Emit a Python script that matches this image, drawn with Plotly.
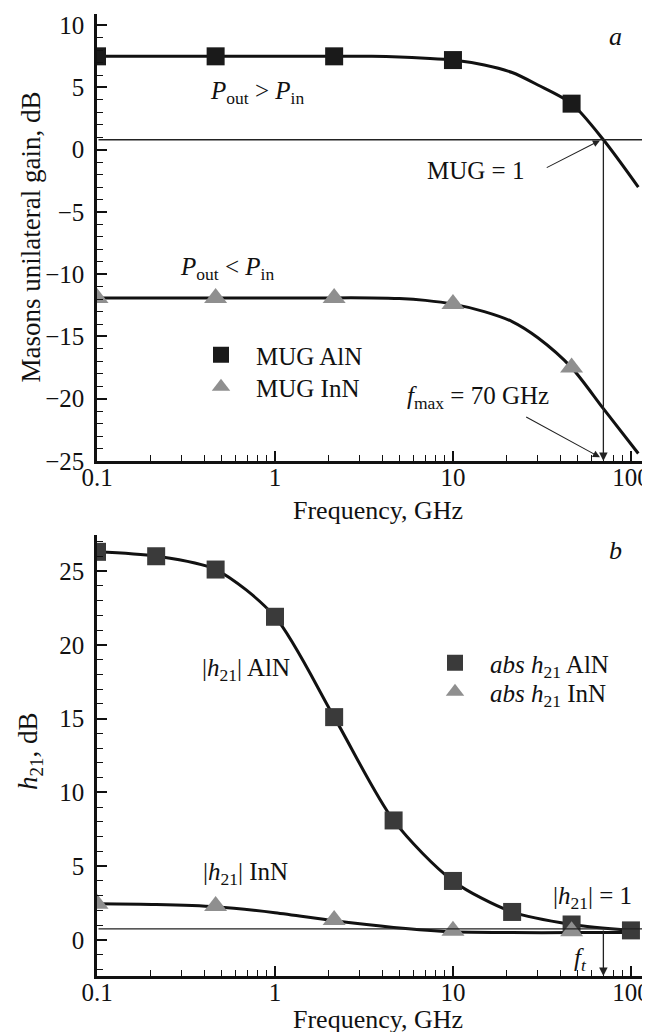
import math
import plotly.graph_objects as go

# ---------------- data ----------------
# panel a: Mason's unilateral gain
freq_mug = [0.1, 0.464, 2.15, 10, 46.4]
mug_aln = [7.5, 7.5, 7.5, 7.2, 3.7]
mug_inn = [-11.9, -11.9, -11.9, -12.4, -17.5]

freq_mug_curve = [0.1, 0.464, 1, 2.15, 3.5, 5, 7, 10, 15, 21.5, 30, 46.4, 70, 110]
mug_aln_curve = [7.5, 7.5, 7.5, 7.5, 7.5, 7.45, 7.35, 7.2, 6.8, 6.2, 5.2, 3.7, 0.8, -3.0]
mug_inn_curve = [-11.9, -11.9, -11.9, -11.9, -11.9, -11.95, -12.1, -12.4, -13.0, -13.8, -15.1, -17.5, -20.8, -24.4]

# panel b: |h21|
freq_h21 = [0.1, 0.215, 0.464, 1, 2.15, 4.64, 10, 21.5, 46.4, 100]
h21_aln = [26.3, 26.0, 25.1, 21.9, 15.1, 8.1, 4.0, 1.9, 1.05, 0.65]
freq_h21_inn = [0.1, 0.464, 2.15, 10, 46.4]
h21_inn = [2.45, 2.3, 1.35, 0.62, 0.6]
freq_h21_inn_curve = [0.1, 0.215, 0.464, 1, 2.15, 4.64, 10, 21.5, 46.4, 100]
h21_inn_curve = [2.45, 2.4, 2.25, 1.85, 1.3, 0.85, 0.55, 0.5, 0.5, 0.5]

# reference levels
mug_unity_level = 0.8
h21_unity_level = 0.75
f_max = 70
f_t = 70

x_ticks = [0.1, 1, 10, 100]
x_tick_text = ["0.1", "1", "10", "100"]

# ---------------- style ----------------
FONT = "Liberation Serif"
INK = "#111111"
SQ_TOP = "#1a1a1a"
SQ_BOT = "#3a3a3a"
TRI = "#8f8f8f"
W, H = 650, 1032
L = 89
X_RANGE = [-1, 2.152]
FS = 25

def L10(v):
    return math.log10(v)

fig = go.Figure()

curve_line = dict(color=INK, width=3, shape="spline", smoothing=0.8)

# --- panel a curves & markers
fig.add_trace(go.Scatter(x=freq_mug_curve, y=mug_aln_curve, mode="lines", line=curve_line,
                         showlegend=False, xaxis="x", yaxis="y", hoverinfo="skip"))
fig.add_trace(go.Scatter(x=freq_mug_curve, y=mug_inn_curve, mode="lines", line=curve_line,
                         showlegend=False, xaxis="x", yaxis="y", hoverinfo="skip"))
fig.add_trace(go.Scatter(x=freq_mug, y=mug_aln, mode="markers", name="MUG AlN",
                         marker=dict(symbol="square", size=18, color=SQ_TOP),
                         xaxis="x", yaxis="y", legend="legend"))
fig.add_trace(go.Scatter(x=freq_mug, y=mug_inn, mode="markers", name="MUG InN",
                         marker=dict(symbol="triangle-up", size=20, color=TRI),
                         xaxis="x", yaxis="y", legend="legend2"))

# --- panel b curves & markers
fig.add_trace(go.Scatter(x=freq_h21, y=h21_aln, mode="lines", line=curve_line,
                         showlegend=False, xaxis="x2", yaxis="y2", hoverinfo="skip"))
fig.add_trace(go.Scatter(x=freq_h21_inn_curve, y=h21_inn_curve, mode="lines", line=curve_line,
                         showlegend=False, xaxis="x2", yaxis="y2", hoverinfo="skip"))
fig.add_trace(go.Scatter(x=freq_h21, y=h21_aln, mode="markers",
                         name="<i>abs h</i><sub>21</sub> AlN",
                         marker=dict(symbol="square", size=18, color=SQ_BOT),
                         xaxis="x2", yaxis="y2", legend="legend3"))
fig.add_trace(go.Scatter(x=freq_h21_inn, y=h21_inn, mode="markers",
                         name="<i>abs h</i><sub>21</sub> InN",
                         marker=dict(symbol="triangle-up", size=20, color=TRI),
                         xaxis="x2", yaxis="y2", legend="legend4"))

tickfont = dict(family=FONT, size=FS, color=INK)
xdom = [L / W, 1.0]

def xaxis_cfg(anchor):
    return dict(type="log", range=X_RANGE, domain=xdom, anchor=anchor,
                showline=True, linewidth=2.5, linecolor=INK,
                showgrid=False, zeroline=False,
                ticks="inside", ticklen=10, tickwidth=1.6, tickcolor=INK,
                tickvals=x_ticks, ticktext=x_tick_text, tickfont=tickfont,
                ticklabelstandoff=-8,
                minor=dict(ticks="inside", ticklen=6, tickwidth=1.4, tickcolor=INK,
                           dtick="D1", showgrid=False),
                automargin=False)

def yaxis_cfg(anchor, rng, dom, dtick):
    return dict(range=rng, domain=dom, anchor=anchor,
                showline=True, linewidth=2.5, linecolor=INK,
                showgrid=False, zeroline=False,
                ticks="inside", ticklen=10, tickwidth=1.6, tickcolor=INK,
                dtick=dtick, tickfont=tickfont, ticklabelstandoff=5,
                minor=dict(ticks="inside", ticklen=6, tickwidth=1.4, tickcolor=INK,
                           dtick=1, showgrid=False),
                automargin=False)

top_px = (6, 453)
bot_px = (527, 968)
top_dom = [1 - top_px[1] / H, 1 - top_px[0] / H]
bot_dom = [1 - bot_px[1] / H, 1 - bot_px[0] / H]

annots = []

def text(x, y, s, xr, yr, xanchor="center", size=FS):
    annots.append(dict(x=L10(x), y=y, xref=xr, yref=yr, text=s, showarrow=False,
                       xanchor=xanchor, yanchor="middle",
                       font=dict(family=FONT, size=size, color=INK)))

def ptext(px, py, s, angle=0, size=FS + 1):
    annots.append(dict(x=px / W, y=1 - py / H, xref="paper", yref="paper", text=s,
                       showarrow=False, xanchor="center", yanchor="middle",
                       textangle=angle, font=dict(family=FONT, size=size, color=INK)))

def arrow(x, y, ax, ay, xr, yr, width=1.3, color="#222222", size=1.3):
    annots.append(dict(x=L10(x), y=y, ax=L10(ax), ay=ay, xref=xr, yref=yr,
                       axref=xr, ayref=yr, text="", showarrow=True,
                       arrowhead=2, arrowsize=size, arrowwidth=width,
                       arrowcolor=color, standoff=0, startstandoff=0))

x_end = 10 ** X_RANGE[1]
x_mid_px = (L + W) / 2

# axis titles
ptext(x_mid_px, 502, "Frequency, GHz")
ptext(x_mid_px, 1011, "Frequency, GHz")
ptext(22, sum(top_px) / 2, "Masons unilateral gain, dB", angle=-90, size=27)
ptext(22, 744, "<i>h</i><sub>21</sub>, dB", angle=-90, size=27)

# panel a annotations
text(0.79, 4.6, "<i>P</i><sub>out</sub> &gt; <i>P</i><sub>in</sub>", "x", "y")
text(0.54, -9.5, "<i>P</i><sub>out</sub> &lt; <i>P</i><sub>in</sub>", "x", "y")
text(25.7, -1.7, "MUG = 1", "x", "y", xanchor="right")
text(13.8, -19.9, "<i>f</i><sub>max</sub> = 70 GHz", "x", "y")
text(82, 9.1, "<i>a</i>", "x", "y", size=26)
arrow(x_end, mug_unity_level, 0.1, mug_unity_level, "x", "y")
arrow(f_max, -25, f_max, mug_unity_level, "x", "y")
arrow(67, 0.75, 33, -1.5, "x", "y", width=1.1)
arrow(67, -24.7, 25.3, -21.4, "x", "y", width=1.1)

# panel b annotations
text(0.687, 18.3, "|<i>h</i><sub>21</sub>| AlN", "x2", "y2")
text(0.687, 4.5, "|<i>h</i><sub>21</sub>| InN", "x2", "y2")
text(61, 2.85, "|<i>h</i><sub>21</sub>| = 1", "x2", "y2")
text(52, -1.3, "<i>f</i><sub><i>t</i></sub>", "x2", "y2")
text(82, 26.4, "<i>b</i>", "x2", "y2", size=26)
arrow(x_end, h21_unity_level, 0.1, h21_unity_level, "x2", "y2")
arrow(f_t, -2.44, f_t, h21_unity_level, "x2", "y2")

legfont = dict(family=FONT, size=FS, color=INK)

def leg(sym_x, sym_y):
    return dict(x=(sym_x - 36) / W, y=1 - sym_y / H, xanchor="left", yanchor="middle",
                font=legfont, bgcolor="rgba(0,0,0,0)", itemwidth=60)

fig.update_layout(
    width=W, height=H,
    margin=dict(l=0, r=0, t=0, b=0),
    paper_bgcolor="white", plot_bgcolor="white",
    xaxis=xaxis_cfg("y"),
    yaxis=yaxis_cfg("x", [-25, 10.9], top_dom, 5),
    xaxis2=xaxis_cfg("y2"),
    yaxis2=yaxis_cfg("x2", [-2.44, 27.44], bot_dom, 5),
    legend=leg(214, 347),
    legend2=leg(214, 379),
    legend3=leg(448, 655),
    legend4=leg(448, 684),
    annotations=annots,
    font=dict(family=FONT, color=INK),
)

fig.write_html("out.html")
